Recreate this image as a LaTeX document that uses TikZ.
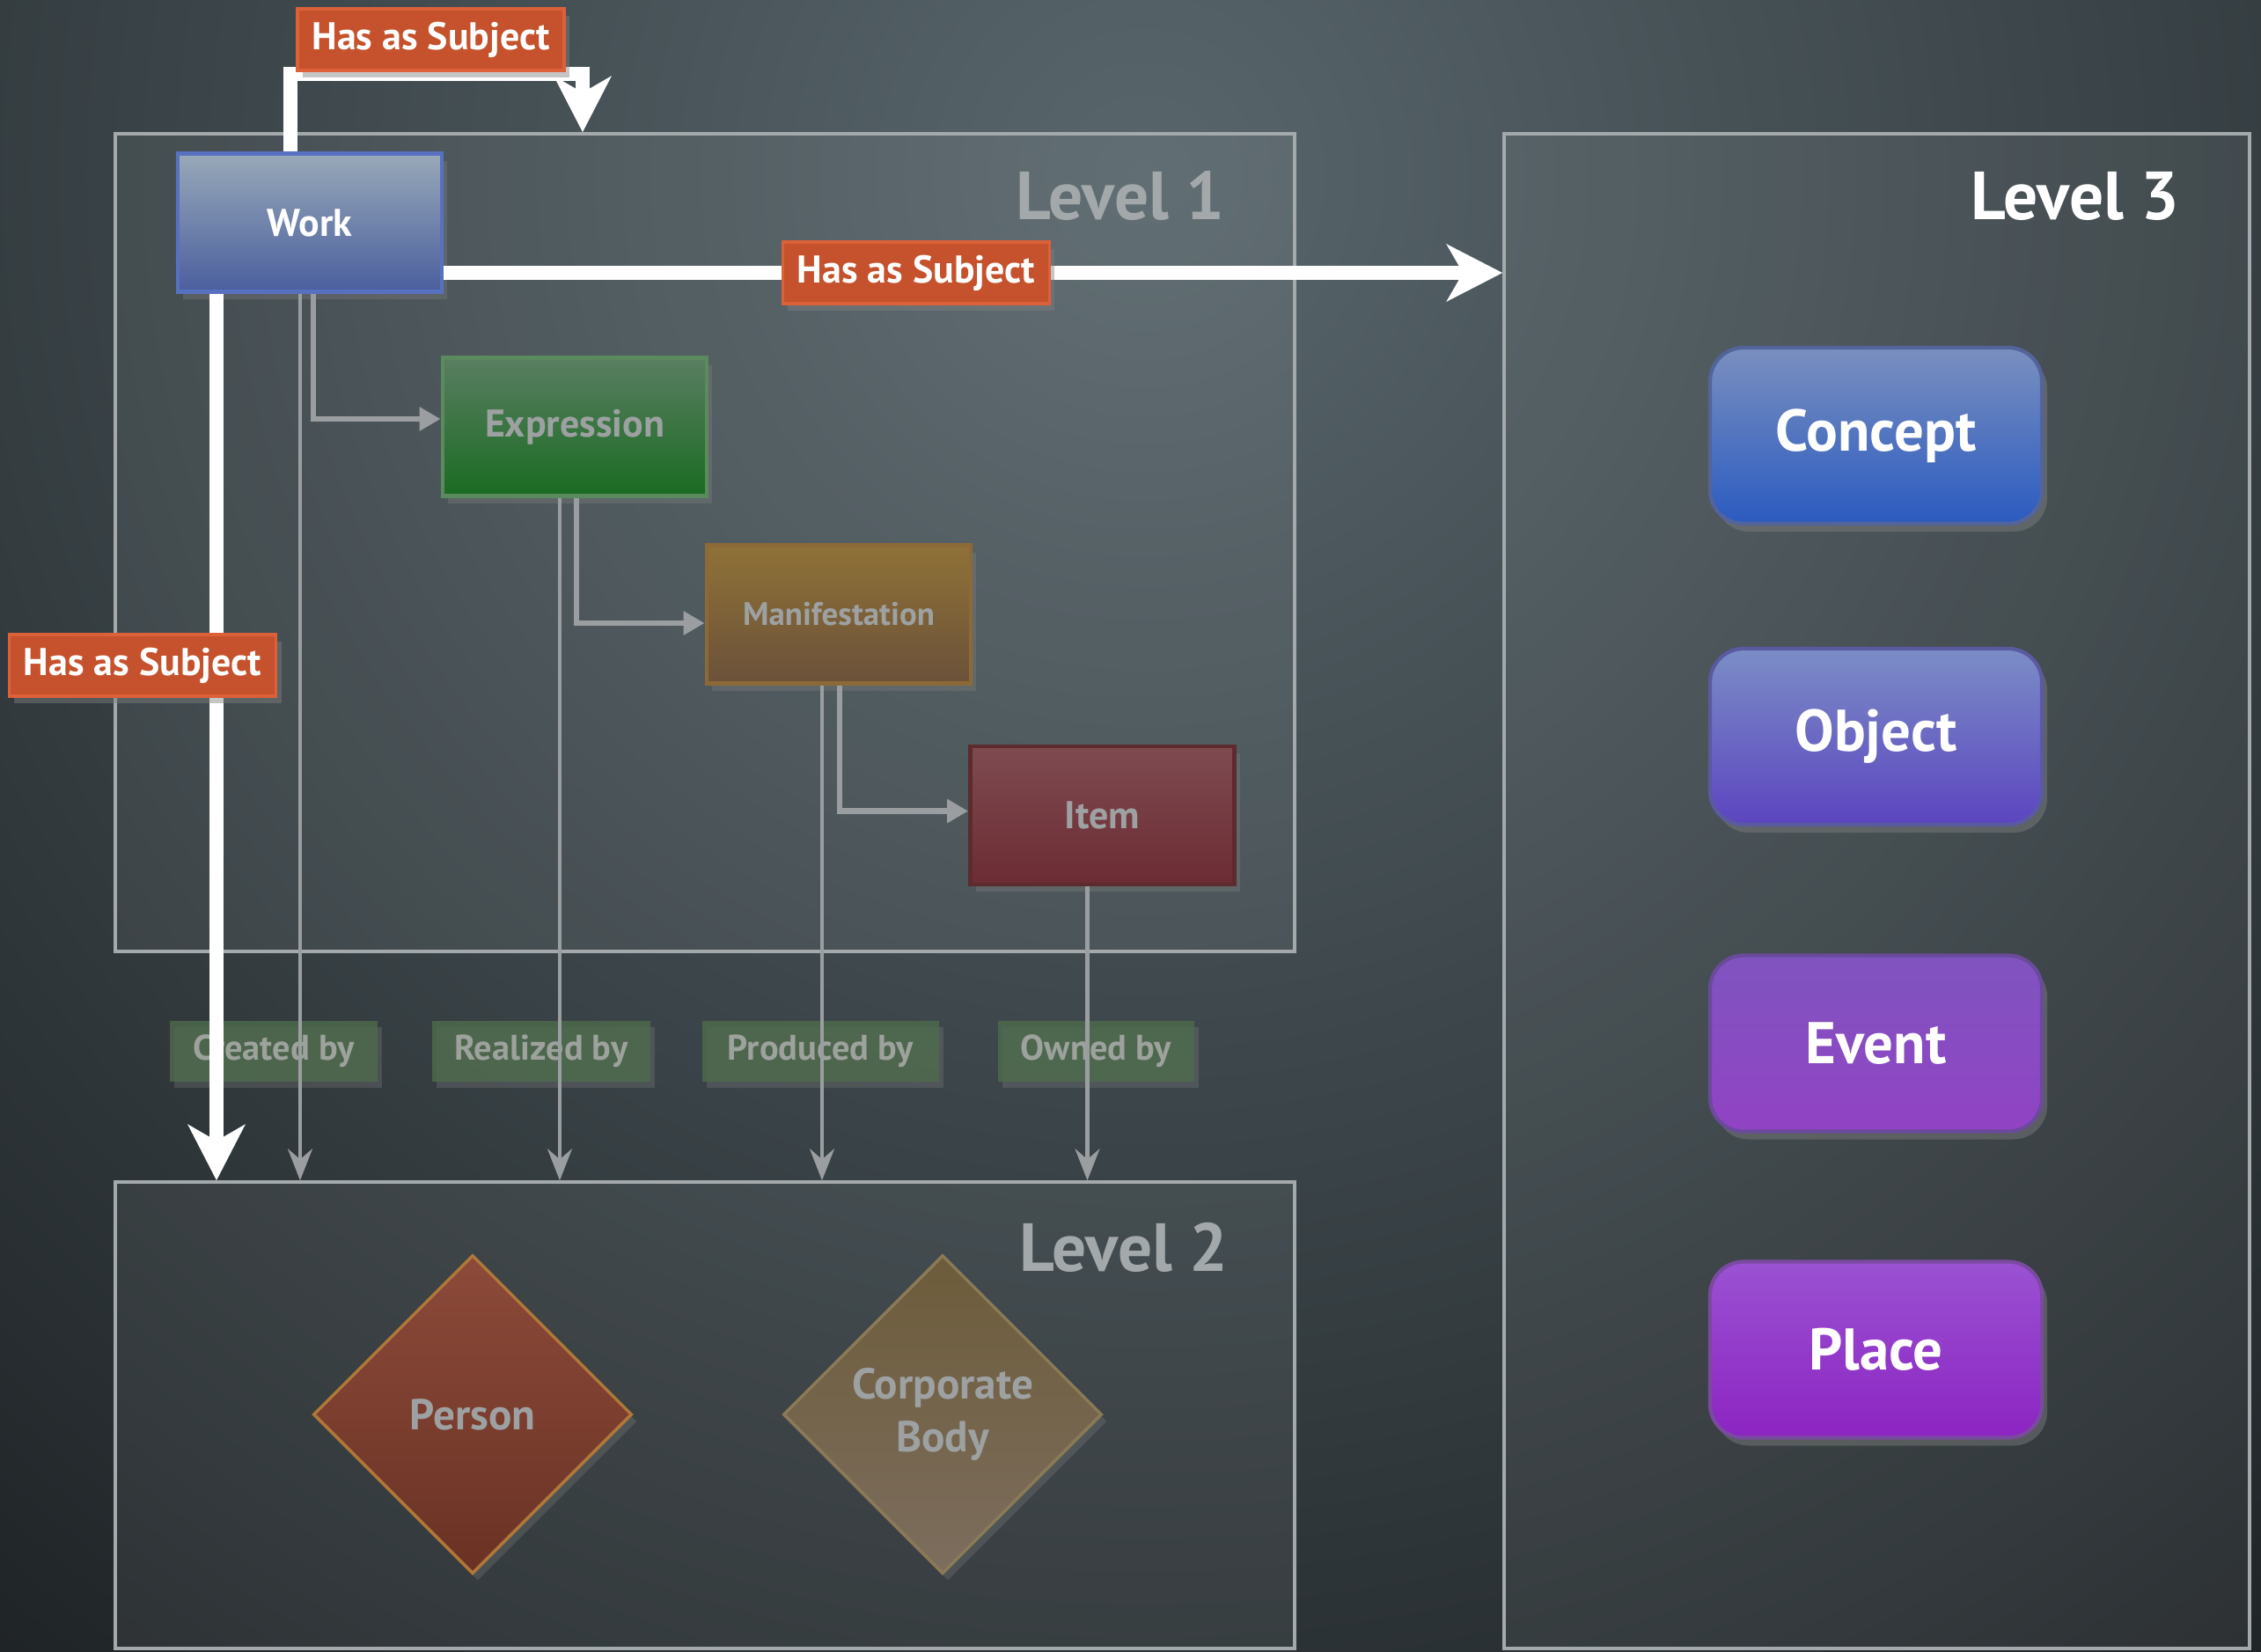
\documentclass[tikz,border=0pt]{standalone}
\usepackage{fontspec}
\setmainfont{PT Sans}
\usepackage{tikz}
\usetikzlibrary{arrows.meta, positioning, shapes.geometric, shadows}
\usepackage{xcolor}

\definecolor{bgdark}{HTML}{15181A}
\definecolor{bglight}{HTML}{58666C}
\definecolor{lvline}{HTML}{A4A9AB}
\definecolor{lvtext}{HTML}{A3A8AA}
\definecolor{fadetext}{HTML}{9EA1A2}
\definecolor{relline}{HTML}{9A9EA0}
\definecolor{relfill}{HTML}{4E6B4C}
\definecolor{reltext}{HTML}{9DA29C}
\definecolor{subjfill}{HTML}{C5522C}
\definecolor{subjline}{HTML}{DC6038}
\definecolor{workT}{HTML}{98A9B8}
\definecolor{workB}{HTML}{4A5F9E}
\definecolor{workL}{HTML}{5870C0}
\definecolor{exprT}{HTML}{5A7E62}
\definecolor{exprB}{HTML}{1A6B22}
\definecolor{exprL}{HTML}{5A8A5E}
\definecolor{manT}{HTML}{8F7238}
\definecolor{manB}{HTML}{6B5139}
\definecolor{manL}{HTML}{8C6A38}
\definecolor{itemT}{HTML}{7E4B51}
\definecolor{itemB}{HTML}{6C2C33}
\definecolor{itemL}{HTML}{5D2A2E}
\definecolor{conT}{HTML}{7A8FBF}
\definecolor{conB}{HTML}{2B5BC0}
\definecolor{conL}{HTML}{53649A}
\definecolor{objT}{HTML}{7B8DC6}
\definecolor{objB}{HTML}{5C45C0}
\definecolor{objL}{HTML}{5A5AA0}
\definecolor{evtT}{HTML}{7F54BF}
\definecolor{evtB}{HTML}{9143C4}
\definecolor{evtL}{HTML}{6A4A9A}
\definecolor{plaT}{HTML}{9A52D2}
\definecolor{plaB}{HTML}{8C24C2}
\definecolor{plaL}{HTML}{7A4AA0}
\definecolor{perT}{HTML}{8C4A3A}
\definecolor{perB}{HTML}{6A3224}
\definecolor{perL}{HTML}{B07838}
\definecolor{corT}{HTML}{6D5C3A}
\definecolor{corB}{HTML}{7C6D5E}
\definecolor{corL}{HTML}{8A7A55}

\begin{document}
\begin{tikzpicture}[
    txt/.style={font=\bfseries\fontsize{12.5}{15}\selectfont},
    entity/.style={txt, rectangle, line width=1.4pt, minimum width=3cm, minimum height=1.57cm, inner sep=0pt, text=fadetext,
        drop shadow={opacity=0.35, shadow xshift=0.6mm, shadow yshift=-0.8mm}},
    level/.style={rectangle, draw=lvline, line width=1pt, fill=white, fill opacity=0.06, inner sep=0pt},
    leveltext/.style={font=\bfseries\fontsize{22}{26}\selectfont, anchor=east},
    subjlabel/.style={txt, fill=subjfill, draw=subjline, line width=1pt, text=white, minimum width=3.03cm, minimum height=0.7cm, inner sep=0pt,
        drop shadow={opacity=0.45, shadow xshift=0.6mm, shadow yshift=-0.8mm}},
    rellabel/.style={font=\bfseries\fontsize{11.5}{14}\selectfont, fill=relfill, fill opacity=0.8, text opacity=1, text=reltext, minimum height=0.69cm, inner sep=0pt,
        drop shadow={opacity=0.3, shadow xshift=0.5mm, shadow yshift=-0.7mm}},
    rel/.style={draw=relline, line width=1.2pt, -{Stealth[length=3.6mm, width=2.8mm, inset=1.2mm]}},
    flow/.style={draw=relline, line width=1.8pt, -{Triangle[length=2.4mm, width=2.6mm]}},
    subj/.style={draw=white, line width=4.3pt, -{Stealth[length=6.3mm, width=6.4mm, inset=1.8mm]}},
    class/.style={font=\bfseries\fontsize{19}{23}\selectfont, text=white, rectangle, rounded corners=3.8mm, line width=1.2pt,
        minimum width=3.77cm, minimum height=2cm, drop shadow={opacity=0.45, shadow xshift=0.6mm, shadow yshift=-0.9mm}},
    agent/.style={diamond, font=\bfseries\fontsize{14}{17}\selectfont, text=fadetext, minimum width=3.62cm, minimum height=3.62cm,
        inner sep=0pt, line width=1pt, align=center, drop shadow={opacity=0.3, shadow xshift=0.6mm, shadow yshift=-0.8mm}}
]
    \useasboundingbox (0,0) rectangle (25.69,-18.76);
    \fill[bgdark] (0,0) rectangle (25.69,-18.76);
    \begin{scope}
        \clip (0,0) rectangle (25.69,-18.76);
        \shade[inner color=bglight, outer color=bgdark] (13,-2) circle (25);
    \end{scope}

    \node[level, minimum width=13.4cm, minimum height=9.29cm] (L1) at (8.01,-6.165) {};
    \node[level, minimum width=13.4cm, minimum height=5.3cm] (L2) at (8.01,-16.08) {};
    \node[level, minimum width=8.47cm, minimum height=17.21cm] (L3) at (21.325,-10.125) {};

    \node[leveltext, text=lvtext] (T1) at (14.04,-2.23) {Level 1};
    \node[leveltext, text=lvtext] (T2) at (14.08,-14.17) {Level 2};
    \node[leveltext, text=white] (T3) at (24.89,-2.23) {Level 3};

    \node[entity, top color=workT, bottom color=workB, draw=workL, text=white] (W) at (3.52,-2.53) {Work};
    \node[entity, top color=exprT, bottom color=exprB, draw=exprL] (E) at (6.53,-4.85) {Expression};
    \node[entity, top color=manT, bottom color=manB, draw=manL, font=\bfseries\fontsize{10.5}{13}\selectfont] (M) at (9.53,-6.98) {Manifestation};
    \node[entity, top color=itemT, bottom color=itemB, draw=itemL] (I) at (12.525,-9.265) {Item};

    \node[agent, top color=perT, bottom color=perB, draw=perL] (P) at (5.37,-16.07) {Person};
    \node[agent, top color=corT, bottom color=corB, draw=corL] (C) at (10.71,-16.07) {Corporate\\Body};

    \node[class, top color=conT, bottom color=conB, draw=conL] (Con) at (21.315,-4.95) {Concept};
    \node[class, top color=objT, bottom color=objB, draw=objL] (Obj) at (21.315,-8.37) {Object};
    \node[class, top color=evtT, bottom color=evtB, draw=evtL] (Evt) at (21.315,-11.855) {Event};
    \node[class, top color=plaT, bottom color=plaB, draw=plaL] (Pla) at (21.315,-15.335) {Place};

    \node[rellabel, minimum width=2.36cm] (Cr) at (3.11,-11.945) {Created by};
    \node[rellabel, minimum width=2.48cm] (Re) at (6.15,-11.945) {Realized by};
    \node[rellabel, minimum width=2.69cm] (Pr) at (9.325,-11.945) {Produced by};
    \node[rellabel, minimum width=2.23cm] (Ow) at (12.455,-11.945) {Owned by};

    \draw[flow] ([xshift=0.4mm]W.south) |- ([yshift=0.9mm]E.west);
    \draw[flow] ([xshift=0.2mm]E.south) |- ([yshift=-1mm]M.west);
    \draw[flow] ([xshift=0.1mm]M.south) |- ([yshift=0.5mm]I.west);

    \draw[rel] ([xshift=-1.1mm]W.south) -- ([xshift=-1.1mm]W.south |- L2.north);
    \draw[rel] ([xshift=-1.7mm]E.south) -- ([xshift=-1.7mm]E.south |- L2.north);
    \draw[rel] ([xshift=-1.9mm]M.south) -- ([xshift=-1.9mm]M.south |- L2.north);
    \draw[rel] ([xshift=-1.7mm]I.south) -- ([xshift=-1.7mm]I.south |- L2.north);

    \coordinate (B1) at (3.30,-0.84);
    \coordinate (B2) at (6.62,-0.84);
    \draw[subj] (W.north -| B1) -- (B1) -- (B2) -- (B2 |- L1.north);
    \draw[subj] ([xshift=-10.6mm]W.south) -- ([xshift=-10.6mm]W.south |- L2.north);
    \draw[subj] ([yshift=-5.7mm]W.east) -- ([yshift=-5.7mm]W.east -| L3.west) node[subjlabel, pos=0.446] (S2) {Has as Subject};

    \node[subjlabel] (S1) at (4.895,-0.45) {Has as Subject};
    \node[subjlabel] (S3) at (1.62,-7.56) {Has as Subject};
\end{tikzpicture}
\end{document}
